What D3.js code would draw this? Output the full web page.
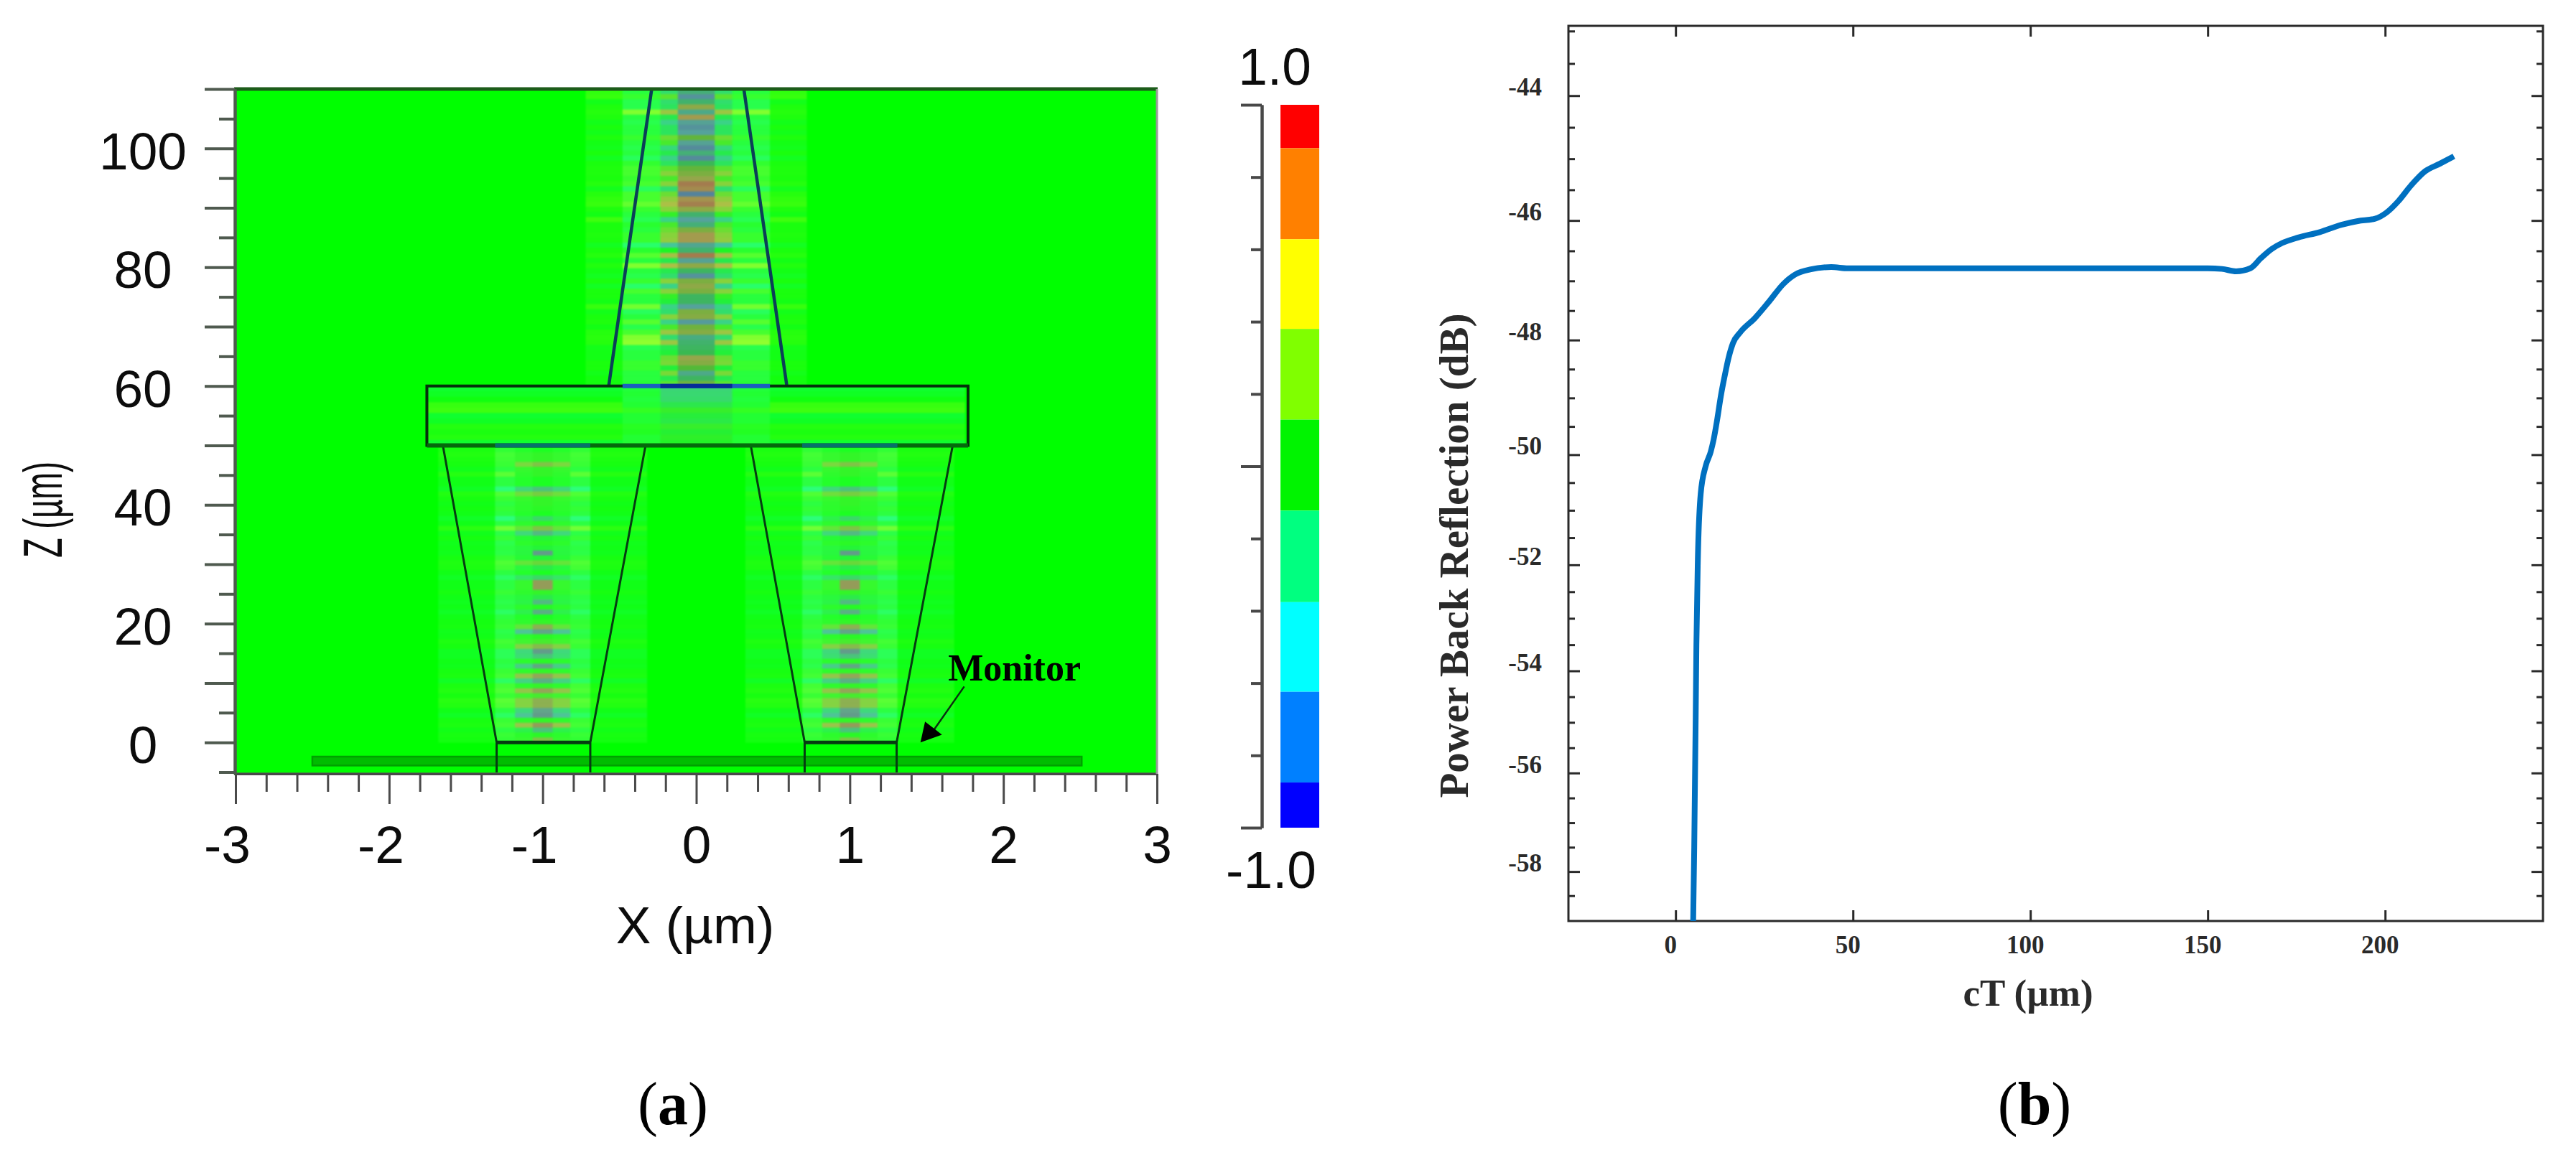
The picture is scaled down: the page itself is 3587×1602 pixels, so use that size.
<!DOCTYPE html>
<html>
<head>
<meta charset="utf-8">
<script src="https://cdnjs.cloudflare.com/ajax/libs/d3/7.8.5/d3.min.js"></script>
<style>
  html, body { margin: 0; padding: 0; background: #fff; }
  svg { display: block; }
</style>
</head>
<body>
<svg id="chart" width="3587" height="1602"></svg>
<script>
// ---- panel (b) curve ----
var ctValues = [4.96, 5.26, 5.67, 5.87, 6.28, 7.08, 8.5, 9.9, 10.7, 11.7, 12.75, 14, 15, 16.2, 18.2, 22.3, 26.3, 30.4, 33.8, 37.9, 43.9, 48.6, 80, 120, 150, 154, 158, 162, 165, 168, 171, 175.5, 181.6, 187.7, 192.3, 197.2, 200.4, 203.8, 207.3, 211.3, 215.4, 219.4];
var backReflection = [-59.03, -57.5, -54.9, -53.5, -51.9, -50.7, -50.2, -49.95, -49.74, -49.39, -48.97, -48.57, -48.29, -48.05, -47.87, -47.63, -47.35, -47.05, -46.89, -46.81, -46.77, -46.79, -46.79, -46.79, -46.79, -46.8, -46.84, -46.79, -46.62, -46.47, -46.37, -46.28, -46.19, -46.07, -46.01, -45.97, -45.87, -45.68, -45.43, -45.2, -45.08, -44.96];
var ctTicks = [0, 50, 100, 150, 200];
var dbLabels = [-44, -46, -48, -50, -52, -54, -56, -58];
var dbMinor = [-43, -43.5, -44.5, -45, -45.5, -46.5, -47, -47.5, -48.5, -49, -49.5, -50.5, -51, -51.5, -52.5, -53, -53.5, -54.5, -55, -55.5, -56.5, -57, -57.5, -58.5];

// ---- panel (a) axes ----
var xLabels = [-3, -2, -1, 0, 1, 2, 3];
var xMinor = [-2.8, -2.6, -2.4, -2.2, -1.8, -1.6, -1.4, -1.2, -0.8, -0.6, -0.4, -0.2, 0.2, 0.4, 0.6, 0.8, 1.2, 1.4, 1.6, 1.8, 2.2, 2.4, 2.6, 2.8];
var zLabels = [0, 20, 40, 60, 80, 100];
var zMajor = [0, 10, 20, 30, 40, 50, 60, 70, 80, 90, 100, 110];
var zMinor = [-5, 5, 15, 25, 35, 45, 55, 65, 75, 85, 95, 105];

// ---- colour bar ----
var barEdges = [1, 0.88, 0.628, 0.38, 0.129, -0.123, -0.376, -0.624, -0.875, -1];
var barColors = ["#ff0000", "#ff8000", "#ffff00", "#80ff00", "#00f400", "#00ff80", "#00ffff", "#0080ff", "#0000ff"];
var barMajor = [-1, 0, 1];
var barMinor = [-0.8, -0.6, -0.4, -0.2, 0.2, 0.4, 0.6, 0.8];

// ---- field rows, top waveguide (z 110 down to 60) ----
var topCore = [-0.25, -0.6, -0.2, 0.35, -0.35, 0.55, -0.45, -0.6, -0.5, 0.15, -0.45, -0.65, -0.25, -0.65, -0.12, 0.15, 0.25, 0.4, 0.75, 0.65, -0.7, 0.6, 0.72, 0.35, -0.2, -0.5, -0.25, 0.25, 0.55, 0.55, -0.4, -0.2, 0.75, -0.45, 0.35, -0.15, -0.6, 0.25, 0.35, 0.25, -0.15, -0.15, -0.5, 0.25, 0.3, -0.55, 0.2, 0.3, -0.3, -0.2, -0.15, -0.1, 0.4, 0.3, 0.1, -0.35, -0.15, 0.2];
var topMid = [-0.2, 0.15, -0.2, -0.15, 0.4, -0.1, -0.3, -0.15, -0.15, 0.2, 0.1, -0.25, -0.1, -0.3, -0.15, 0.15, 0.3, 0.1, 0.3, -0.2, 0.2, 0.35, 0.5, 0.3, 0.05, -0.3, 0.1, 0.2, 0.3, 0.35, -0.4, 0, 0.45, -0.1, 0.5, -0.1, -0.2, 0.3, -0.3, 0.3, 0.05, -0.05, -0.3, -0.2, 0.3, -0.3, 0.1, 0.4, -0.2, 0.4, -0.1, -0.05, 0.2, 0.25, -0.05, 0.25, -0.1, 0.15];
var topNear = [-0.05, 0.05, -0.1, -0.1, 0.3, -0.05, -0.1, -0.05, -0.05, 0.05, -0.05, -0.1, -0.05, -0.15, 0.03, 0.1, 0.1, 0.05, 0.1, -0.15, 0.1, 0.1, 0.2, 0.05, -0.05, -0.12, 0, -0.05, 0.05, 0.05, -0.2, 0, 0.15, -0.05, 0.3, -0.05, -0.1, 0.05, -0.2, 0.1, -0.05, -0.05, 0.25, -0.15, -0.05, 0.15, -0.1, 0.1, 0.3, 0.35, -0.1, -0.05, -0.05, 0.05, 0.05, -0.05, -0.05, -0.02];
var topOuter = [0.08, 0.1, -0.03, 0.03, 0.05, 0.03, -0.03, 0.02, -0.03, 0.03, -0.02, -0.04, 0.02, -0.05, 0.02, 0.03, 0.03, 0.02, 0.05, -0.04, 0.05, 0.08, 0.1, 0.03, -0.02, 0.12, 0.02, 0.02, 0.03, 0.02, -0.05, 0.02, 0.05, -0.02, 0.04, -0.02, -0.05, 0.02, -0.06, 0.02, 0.02, -0.02, 0.1, -0.03, 0.02, 0.03, -0.02, 0.05, 0.06, 0.05, -0.03, -0.02, -0.02, 0.02, 0.02, -0.03, 0, 0];

// ---- field rows, slab (z 60 down to 50) ----
var slabMid = [-0.25, -0.22, -0.2, -0.1, 0.05, -0.05, -0.08, 0.05, -0.03, 0.03, 0];
var slabNear = [-0.08, -0.05, -0.08, -0.05, 0.05, -0.05, -0.05, 0.02, 0, -0.05, -0.05];
var slabWide = [-0.08, -0.05, 0, 0.1, 0.12, -0.08, -0.05, 0.05, 0.03, 0.05, -0.08];

// ---- field rows, lower waveguides (z 50 down to 0) ----
var lowCore = [0, 0.05, 0.05, 0.3, 0.05, 0.05, 0, 0, -0.3, 0.25, 0.05, 0.05, 0.03, 0, -0.2, 0.03, 0.3, -0.35, -0.05, 0.03, -0.05, -0.6, -0.05, 0.2, -0.1, 0, -0.2, 0.6, 0.6, 0.05, -0.1, -0.35, 0.02, -0.4, 0, 0.05, 0.4, -0.5, 0.03, 0.1, 0.35, -0.6, -0.3, 0.03, -0.45, 0.05, 0.5, -0.4, 0.05, 0.5, 0.1, 0.4, 0.4, -0.5, -0.6, 0.05, 0.6, -0.3, 0.03, 0.3];
var lowMid = [0, 0.05, 0.05, 0.3, 0.05, 0.03, 0, 0, -0.3, 0.25, 0.05, 0.03, 0.02, 0, -0.1, 0.03, 0.2, -0.3, -0.03, 0.02, -0.05, -0.06, -0.03, 0.2, -0.05, 0, -0.2, 0.05, 0.05, 0.03, -0.05, -0.08, 0.02, -0.1, 0, 0.03, 0.2, -0.5, 0.02, 0.08, 0.35, -0.3, -0.25, 0.02, -0.4, 0.03, 0.45, -0.35, 0.03, 0.45, 0.08, 0.35, 0.35, -0.3, -0.5, 0.03, 0.5, -0.1, 0.02, 0.05];
var lowNear = [0.02, 0.1, 0.08, 0.05, -0.05, 0.2, -0.05, -0.05, -0.3, 0.15, 0.05, -0.05, 0.03, -0.05, -0.3, -0.05, 0.3, -0.08, 0.05, -0.1, -0.05, -0.08, 0.05, 0.15, 0.1, -0.05, -0.2, -0.05, -0.05, 0.05, -0.05, -0.1, -0.05, -0.2, -0.05, 0.02, 0.05, -0.1, -0.05, 0.1, 0.05, -0.15, -0.15, -0.05, -0.1, 0.05, 0.1, -0.2, 0.1, 0.15, 0.05, 0.2, 0.15, -0.05, -0.2, 0.05, 0.1, -0.05, 0.05, 0.02];
var lowOuter = [0.03, 0.05, 0.03, 0.02, -0.03, 0.06, -0.02, -0.02, -0.06, 0.05, 0.02, -0.02, 0.01, -0.02, -0.07, -0.02, 0.08, -0.03, 0.02, -0.03, -0.02, -0.03, 0.02, 0.04, 0.03, -0.02, -0.06, -0.02, -0.02, 0.02, -0.02, -0.04, -0.02, -0.06, -0.02, 0.01, 0.02, -0.03, -0.02, 0.04, 0.02, -0.05, -0.05, -0.02, -0.03, 0.02, 0.03, -0.06, 0.03, 0.05, 0.02, 0.07, 0.05, -0.02, -0.06, 0.02, 0.03, -0.02, 0.02, 0.01];

// ---- device outline, in X / Z units ----
var topTaper = [[[-0.29, 110], [-0.57, 60]], [[0.31, 110], [0.59, 60]]];
var slabBox = [-1.754, 1.77, 50, 60];
var lowTapers = [
    [[-1.65, 50], [-1.3, 0], [-1.3, -5.3]],
    [[-0.33, 50], [-0.69, 0], [-0.69, -5.3]],
    [[0.355, 50], [0.706, 0], [0.706, -5.3]],
    [[1.67, 50], [1.305, 0], [1.305, -5.3]]
];
var lowCaps = [[-1.3, -0.69], [0.706, 1.305]];
var monitorBox = [-2.5, 2.51, -3.9, -2.4];
var arrowLine = [[1.745, 9.4], [1.55, 2.2]];
var arrowHead = [[1.46, 0], [1.49, 3.5], [1.6, 1.3]];

var svg = d3.select("#chart");
var serif = "'Liberation Serif', 'Times New Roman', serif";
var sans = "'Liberation Sans', Arial, sans-serif";

// ===================== panel (a) =====================
var xA = d3.scaleLinear().domain([-3, 3]).range([328, 1611]);
var zA = d3.scaleLinear().domain([-5.3, 110]).range([1078, 124]);

var fieldColor = d3.scaleLinear()
    .domain([-1, -0.75, -0.5, -0.25, 0, 0.25, 0.5, 0.75, 1])
    .range(["#0000ff", "#0080ff", "#00ffff", "#00ff80", "#00ff00", "#80ff00", "#ffff00", "#ff8000", "#ff0000"]);

svg.append("defs").append("clipPath").attr("id", "plotClip")
    .append("rect")
    .attr("x", xA(-3)).attr("y", zA(110))
    .attr("width", xA(3) - xA(-3)).attr("height", zA(-5.3) - zA(110));

var plotA = svg.append("g").attr("clip-path", "url(#plotClip)");
plotA.append("rect")
    .attr("x", xA(-3)).attr("y", zA(110))
    .attr("width", xA(3) - xA(-3)).attr("height", zA(-5.3) - zA(110))
    .attr("fill", "#00ff00");

var heat = plotA.append("g").style("filter", "blur(1.1px)");

// draws one block of rows; zones go from widest to narrowest
var drawRows = function(center, zTop, zBottom, zones) {
    var n = zones[0].values.length;
    var band = d3.scaleBand().domain(d3.range(n)).range([zA(zTop), zA(zBottom)]);
    zones.forEach(function(zone) {
        heat.append("g").selectAll("rect").data(zone.values).enter().append("rect")
            .attr("x", xA(center - zone.half))
            .attr("width", xA(center + zone.half) - xA(center - zone.half))
            .attr("y", function(d, i) { return band(i); })
            .attr("height", band.bandwidth() + 0.5)
            .attr("fill", function(d) {
                var base = d3.interpolateRgb(fieldColor(d), zone.tint)(zone.mix);
                // strong rows turn muddy, weak rows stay the light green of the tint
                var g = zone.grey ? zone.grey * Math.min(1, Math.abs(d) * 2.2) : 0;
                return d3.interpolateRgb(base, "#807f70")(g);
            });
    });
};

drawRows(0, 60, 50, [
    {half: 1.75, values: slabWide, tint: "#40ff40", mix: 0.25},
    {half: 0.48, values: slabNear, tint: "#60ff60", mix: 0.35},
    {half: 0.234, values: slabMid, tint: "#60e070", mix: 0.35, grey: 0.5}
]);

[-1, 1].forEach(function(center) {
    drawRows(center, 49.7, 0, [
        {half: 0.68, values: lowOuter, tint: "#30ff30", mix: 0.35},
        {half: 0.31, values: lowNear, tint: "#50ff60", mix: 0.55},
        {half: 0.18, values: lowMid, tint: "#50ff60", mix: 0.45, grey: 0.45},
        {half: 0.065, values: lowCore, tint: "#50ff60", mix: 0.35, grey: 0.7}
    ]);
});

drawRows(0, 110, 60, [
    {half: 0.72, values: topOuter, tint: "#40ff30", mix: 0.3},
    {half: 0.48, values: topNear, tint: "#60ff70", mix: 0.42},
    {half: 0.234, values: topMid, tint: "#60e078", mix: 0.3, grey: 0.45},
    {half: 0.12, values: topCore, tint: "#707070", mix: 0.45, grey: 0.45}
]);

// monitor plane
plotA.append("rect")
    .attr("x", xA(monitorBox[0])).attr("y", zA(monitorBox[3]))
    .attr("width", xA(monitorBox[1]) - xA(monitorBox[0]))
    .attr("height", zA(monitorBox[2]) - zA(monitorBox[3]))
    .attr("fill", "#00bc00").attr("stroke", "#00a000").attr("stroke-width", 2.5);

// device outline
var outline = d3.line().x(function(d) { return xA(d[0]); }).y(function(d) { return zA(d[1]); });
var edgeDark = "#063c12";

topTaper.forEach(function(t) {
    plotA.append("path").attr("d", outline(t)).attr("fill", "none")
        .attr("stroke", "#0b3f58").attr("stroke-width", 4.5);
});
lowTapers.forEach(function(t) {
    plotA.append("path").attr("d", outline(t)).attr("fill", "none")
        .attr("stroke", edgeDark).attr("stroke-width", 3);
});
lowCaps.forEach(function(c) {
    plotA.append("line")
        .attr("x1", xA(c[0])).attr("x2", xA(c[1]))
        .attr("y1", zA(0)).attr("y2", zA(0))
        .attr("stroke", edgeDark).attr("stroke-width", 5);
});
plotA.append("rect")
    .attr("x", xA(slabBox[0])).attr("y", zA(slabBox[3]))
    .attr("width", xA(slabBox[1]) - xA(slabBox[0]))
    .attr("height", zA(slabBox[2]) - zA(slabBox[3]))
    .attr("fill", "none").attr("stroke", "#05300c").attr("stroke-width", 4);
// coloured stretches of the slab edges, where the field is strong
plotA.append("line").attr("x1", xA(-0.48)).attr("x2", xA(0.48))
    .attr("y1", zA(60)).attr("y2", zA(60))
    .attr("stroke", "#1a5fc0").attr("stroke-width", 6);
plotA.append("line").attr("x1", xA(-0.234)).attr("x2", xA(0.234))
    .attr("y1", zA(60)).attr("y2", zA(60))
    .attr("stroke", "#062a98").attr("stroke-width", 6);
plotA.append("line").attr("x1", xA(slabBox[0])).attr("x2", xA(slabBox[1]))
    .attr("y1", zA(50)).attr("y2", zA(50))
    .attr("stroke", "#056a0c").attr("stroke-width", 6);
[-1, 1].forEach(function(c) {
    plotA.append("line").attr("x1", xA(c - 0.31)).attr("x2", xA(c + 0.31))
        .attr("y1", zA(50)).attr("y2", zA(50))
        .attr("stroke", "#07706a").attr("stroke-width", 6);
});

// monitor label and arrow
svg.append("text").attr("x", xA(1.64)).attr("y", zA(10.4))
    .attr("font-family", serif).attr("font-weight", "bold").attr("font-size", 52)
    .attr("fill", "#000").text("Monitor");
svg.append("path").attr("d", outline(arrowLine)).attr("fill", "none")
    .attr("stroke", "#0a3010").attr("stroke-width", 2.5);
svg.append("path").attr("d", outline(arrowHead) + "Z").attr("fill", "#000");

// frame of the plot
svg.append("line").attr("x1", 326).attr("x2", 1612).attr("y1", zA(110)).attr("y2", zA(110))
    .attr("stroke", "#1c5c1a").attr("stroke-width", 5);
svg.append("line").attr("x1", 326).attr("x2", 1612).attr("y1", zA(-5.3)).attr("y2", zA(-5.3))
    .attr("stroke", "#3c8a3c").attr("stroke-width", 4);

// axes of panel (a)
var styleAxis = function(g, color, width) {
    g.selectAll(".domain").attr("stroke", color).attr("stroke-width", width);
    g.selectAll(".tick line").attr("stroke", color).attr("stroke-width", width);
};

var xAxisMajor = svg.append("g").attr("transform", "translate(0," + zA(-5.3) + ")")
    .call(d3.axisBottom(xA).tickValues(xLabels).tickSize(42).tickSizeOuter(0).tickFormat(String));
styleAxis(xAxisMajor, "#4a4a4a", 3);
xAxisMajor.selectAll("text")
    .attr("font-family", sans).attr("font-size", 73).attr("fill", "#0c0c0c")
    .attr("y", 0).attr("dy", 0)
    .attr("transform", "translate(0,124)")
    .attr("dx", function(d) { return d < 0 ? -12 : 0; });
var xAxisMinor = svg.append("g").attr("transform", "translate(0," + zA(-5.3) + ")")
    .call(d3.axisBottom(xA).tickValues(xMinor).tickSize(25).tickSizeOuter(0).tickFormat(""));
styleAxis(xAxisMinor, "#4a4a4a", 3);

var zAxisMajor = svg.append("g").attr("transform", "translate(327,0)")
    .call(d3.axisLeft(zA).tickValues(zMajor).tickSize(42).tickSizeOuter(0).tickFormat(""));
styleAxis(zAxisMajor, "#4f5a4f", 4);
var zAxisMinor = svg.append("g").attr("transform", "translate(327,0)")
    .call(d3.axisLeft(zA).tickValues(zMinor).tickSize(22).tickSizeOuter(0).tickFormat(""));
styleAxis(zAxisMinor, "#4f5a4f", 4);
svg.append("g").selectAll("text").data(zLabels).enter().append("text")
    .attr("x", 199).attr("y", function(d) { return zA(d) + 29; })
    .attr("text-anchor", "middle")
    .attr("font-family", sans).attr("font-size", 73).attr("fill", "#0c0c0c")
    .text(function(d) { return d; });

svg.append("line").attr("x1", xA(3)).attr("x2", xA(3)).attr("y1", zA(110)).attr("y2", zA(-5.3))
    .attr("stroke", "#9a9a9a").attr("stroke-width", 3);

svg.append("text").attr("x", 968).attr("y", 1314).attr("text-anchor", "middle")
    .attr("font-family", sans).attr("font-size", 73).attr("fill", "#0c0c0c").text("X (µm)");
svg.append("text").attr("transform", "translate(86,710) rotate(-90)").attr("text-anchor", "middle")
    .attr("font-family", sans).attr("font-size", 76).attr("fill", "#0c0c0c")
    .attr("textLength", 134).attr("lengthAdjust", "spacingAndGlyphs").text("Z (µm)");

// colour bar
var barScale = d3.scaleLinear().domain([-1, 1]).range([1153, 146]);
svg.append("g").selectAll("rect").data(barColors).enter().append("rect")
    .attr("x", 1783).attr("width", 54)
    .attr("y", function(d, i) { return barScale(barEdges[i]); })
    .attr("height", function(d, i) { return barScale(barEdges[i + 1]) - barScale(barEdges[i]); })
    .attr("fill", function(d) { return d; });
var barAxisMajor = svg.append("g").attr("transform", "translate(1757,0)")
    .call(d3.axisLeft(barScale).tickValues(barMajor).tickSize(29).tickSizeOuter(0).tickFormat(""));
styleAxis(barAxisMajor, "#484848", 4);
var barAxisMinor = svg.append("g").attr("transform", "translate(1757,0)")
    .call(d3.axisLeft(barScale).tickValues(barMinor).tickSize(15).tickSizeOuter(0).tickFormat(""));
styleAxis(barAxisMinor, "#484848", 4);
svg.append("text").attr("x", 1775).attr("y", 118).attr("text-anchor", "middle")
    .attr("font-family", sans).attr("font-size", 73).attr("fill", "#0c0c0c").text("1.0");
svg.append("text").attr("x", 1770).attr("y", 1237).attr("text-anchor", "middle")
    .attr("font-family", sans).attr("font-size", 73).attr("fill", "#0c0c0c").text("-1.0");

// ===================== panel (b) =====================
var xB = d3.scaleLinear().domain([-30.2, 244.5]).range([2184, 3541]);
// the dB axis is logarithmic in magnitude: tick spacing shrinks toward -58
var yB = d3.scaleLog().domain([-42.92, -59.03]).range([36, 1283]);
var inkB = "#2a2a2a";

svg.append("rect")
    .attr("x", xB.range()[0]).attr("y", yB.range()[0])
    .attr("width", xB.range()[1] - xB.range()[0])
    .attr("height", yB.range()[1] - yB.range()[0])
    .attr("fill", "none").attr("stroke", inkB).attr("stroke-width", 3);

var inward = function(axisFn, scale, translate, values, size) {
    var g = svg.append("g").attr("transform", translate)
        .call(axisFn(scale).tickValues(values).tickSize(size).tickSizeOuter(0).tickFormat(""));
    g.select(".domain").remove();
    g.selectAll(".tick line").attr("stroke", inkB).attr("stroke-width", 3);
};
inward(d3.axisBottom, xB, "translate(0," + yB.range()[1] + ")", ctTicks, -15);
inward(d3.axisTop, xB, "translate(0," + yB.range()[0] + ")", ctTicks, -15);
inward(d3.axisLeft, yB, "translate(" + xB.range()[0] + ",0)", dbLabels, -16);
inward(d3.axisLeft, yB, "translate(" + xB.range()[0] + ",0)", dbMinor, -9);
inward(d3.axisRight, yB, "translate(" + xB.range()[1] + ",0)", dbLabels, -16);
inward(d3.axisRight, yB, "translate(" + xB.range()[1] + ",0)", dbMinor, -9);

svg.append("g").selectAll("text").data(dbLabels).enter().append("text")
    .attr("x", 2147).attr("y", function(d) { return yB(d); })
    .attr("text-anchor", "end")
    .attr("font-family", serif).attr("font-weight", "bold").attr("font-size", 35).attr("fill", inkB)
    .text(function(d) { return d; });
svg.append("g").selectAll("text").data(ctTicks).enter().append("text")
    .attr("x", function(d) { return xB(d) - 7; }).attr("y", 1328)
    .attr("text-anchor", "middle")
    .attr("font-family", serif).attr("font-weight", "bold").attr("font-size", 35).attr("fill", inkB)
    .text(function(d) { return d; });

var curve = d3.line()
    .x(function(d) { return xB(d); })
    .y(function(d, i) { return yB(backReflection[i]); })
    .curve(d3.curveMonotoneX);
svg.append("path").attr("d", curve(ctValues))
    .attr("fill", "none").attr("stroke", "#0070c0").attr("stroke-width", 8);

svg.append("text").attr("x", 2824).attr("y", 1401).attr("text-anchor", "middle")
    .attr("font-family", serif).attr("font-weight", "bold").attr("font-size", 53).attr("fill", inkB)
    .text("cT (µm)");
svg.append("text").attr("transform", "translate(2044,774) rotate(-90)").attr("text-anchor", "middle")
    .attr("font-family", serif).attr("font-weight", "bold").attr("font-size", 57).attr("fill", inkB)
    .text("Power Back Reflection (dB)");

// ===================== panel captions =====================
var caption = function(cx, letter) {
    var t = svg.append("text").attr("x", cx).attr("y", 1566).attr("text-anchor", "middle")
        .attr("font-family", serif).attr("font-size", 84).attr("fill", "#000");
    t.append("tspan").text("(");
    t.append("tspan").attr("font-weight", "bold").text(letter);
    t.append("tspan").text(")");
};
caption(937, "a");
caption(2833, "b");
</script>
</body>
</html>
